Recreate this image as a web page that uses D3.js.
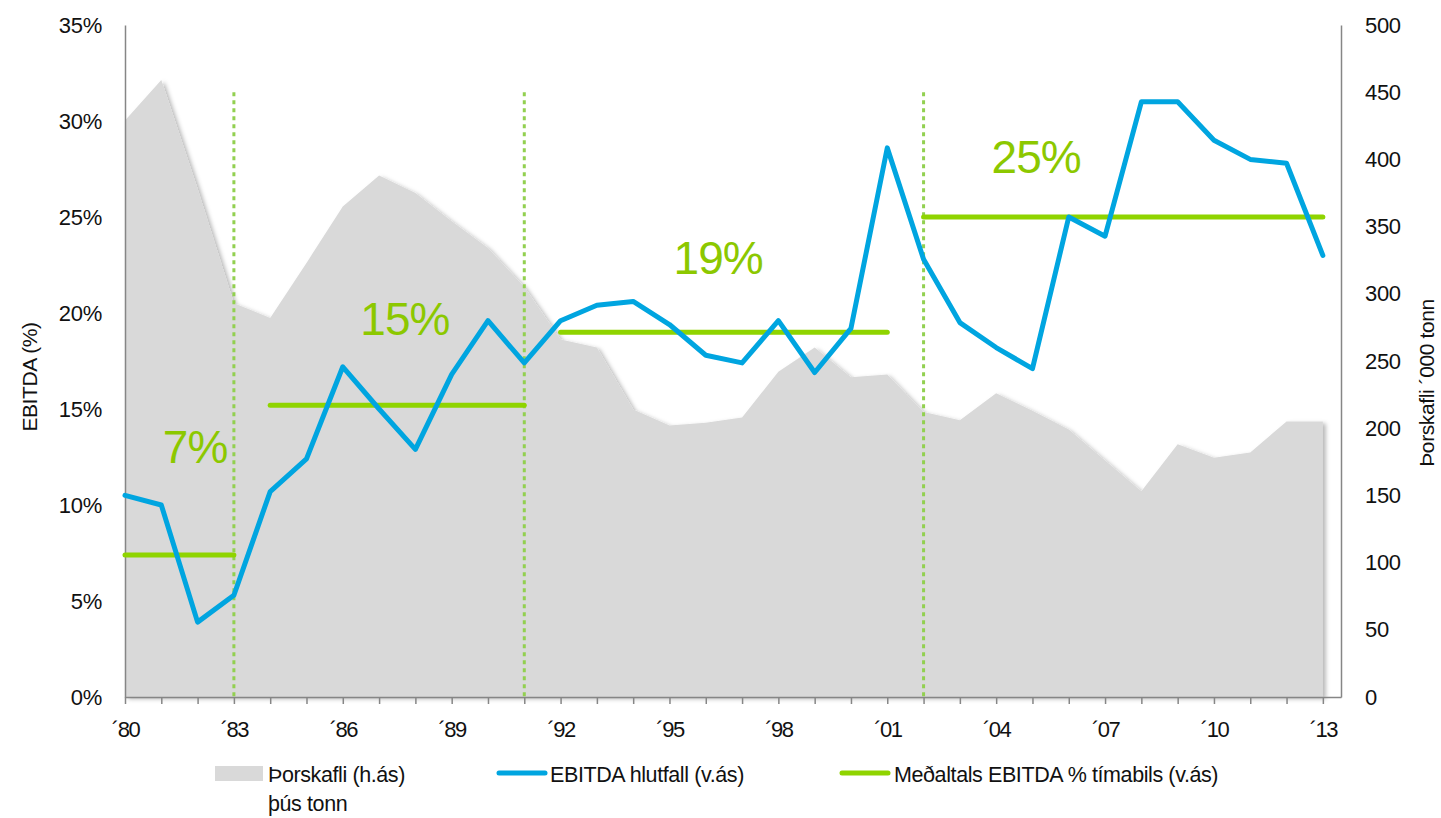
<!DOCTYPE html>
<html lang="is">
<head>
<meta charset="UTF-8">
<title>EBITDA og þorskafli</title>
<script src="https://d3js.org/d3.v7.min.js"></script>
<style>
  body { margin: 0; background: #fff; }
  svg { display: block; font-family: "Liberation Sans", Arial, sans-serif; }
  .axis .domain { stroke: #868686; stroke-width: 1.5; }
  .axis line { stroke: #868686; stroke-width: 1.5; }
  .axis text { font-size: 22px; fill: #111; letter-spacing: -0.3px; }
  .xaxis text { letter-spacing: -1.5px; }
  .title { font-size: 21px; fill: #111; letter-spacing: -0.4px; }
  .legend text { font-size: 21.5px; fill: #111; letter-spacing: -0.4px; }
  .big { font-size: 46px; fill: #8cc800; letter-spacing: -1px; text-anchor: middle; }
</style>
</head>
<body>
<svg id="chart" width="1441" height="818"></svg>
<script>
// data
const years = d3.range(1980, 2014);
const ebitda = [10.5, 10.0, 3.9, 5.3, 10.7, 12.4, 17.2, 15.0, 12.9, 16.8,
                19.6, 17.4, 19.6, 20.4, 20.6, 19.4, 17.8, 17.4, 19.6, 16.9,
                19.2, 28.6, 22.8, 19.5, 18.2, 17.1, 25.0, 24.0, 31.0, 31.0,
                29.0, 28.0, 27.8, 23.0];
const codCatch = [429, 459, 378, 293, 282, 323, 365, 388, 375, 354,
                  334, 305, 266, 260, 214, 202, 204, 208, 242, 260,
                  238, 240, 212, 206, 226, 213, 199, 176, 153, 188,
                  178, 182, 205, 205];
const periodStart = [1980, 1984, 1992, 2002];
const periodEnd = [1983, 1991, 2001, 2013];
const periodAvg = [7.4, 15.2, 19.0, 25.0];
const periodLabels = ["7%", "15%", "19%", "25%"];
const periodBreaks = [1983, 1991, 2002];
const leftTicks = [0, 5, 10, 15, 20, 25, 30, 35];
const rightTicks = d3.range(0, 501, 50);
const legendLabels = ["Þorskafli (h.ás)", "EBITDA hlutfall (v.ás)", "Meðaltals EBITDA % tímabils (v.ás)"];

// where the period labels sit, in data units [year, %]
const labelAt = [[1981.93, 12.2], [1987.71, 18.85], [1996.34, 22.03], [2005.1, 27.3]];

const svg = d3.select("#chart");
const x = d3.scaleLinear().domain([1980, 2013.5]).range([125, 1341]);
const yL = d3.scaleLinear().domain([0, 35]).range([697, 25]);
const yR = d3.scaleLinear().domain([0, 500]).range([697, 25]);

const blue = "#00a5e0", green = "#8fd400", grey = "#d9d9d9";

// shadow under the catch area
const defs = svg.append("defs");
defs.append("filter").attr("id", "shadow")
    .attr("x", "-5%").attr("y", "-5%").attr("width", "110%").attr("height", "110%")
    .append("feDropShadow")
    .attr("dx", 3).attr("dy", 2).attr("stdDeviation", 2)
    .attr("flood-color", "#000").attr("flood-opacity", 0.28);

const area = d3.area()
    .x((d, i) => x(years[i]))
    .y0(yR(0))
    .y1(d => yR(d));

svg.append("path")
   .datum(codCatch)
   .attr("d", area)
   .attr("fill", grey)
   .attr("filter", "url(#shadow)");

// dotted period separators
svg.selectAll(".sep")
   .data(periodBreaks)
   .enter().append("line")
   .attr("x1", d => x(d)).attr("x2", d => x(d))
   .attr("y1", yL(31.5)).attr("y2", yL(0))
   .attr("stroke", "#92d050").attr("stroke-width", 3)
   .attr("stroke-dasharray", "4,4");

// axes
svg.append("g").attr("class", "axis")
   .attr("transform", `translate(${x(1980)},0)`)
   .call(d3.axisLeft(yL).tickValues(leftTicks).tickFormat(d => d + "%")
         .tickSize(0).tickPadding(23));

svg.append("g").attr("class", "axis")
   .attr("transform", `translate(${x(2013.5)},0)`)
   .call(d3.axisRight(yR).tickValues(rightTicks).tickSize(0).tickPadding(24));

svg.append("g").attr("class", "axis xaxis")
   .attr("transform", `translate(0,${yL(0)})`)
   .call(d3.axisBottom(x).tickValues(years)
         .tickFormat(d => (d - 1980) % 3 === 0 ? "´" + String(d).slice(2) : "")
         .tickSizeInner(7).tickSizeOuter(0).tickPadding(17));

// period averages
svg.selectAll(".avg")
   .data(periodAvg)
   .enter().append("line")
   .attr("x1", (d, i) => x(periodStart[i]))
   .attr("x2", (d, i) => x(periodEnd[i]))
   .attr("y1", d => yL(d)).attr("y2", d => yL(d))
   .attr("stroke", green).attr("stroke-width", 5)
   .attr("stroke-linecap", "round");

// EBITDA line
svg.append("path")
   .datum(ebitda)
   .attr("d", d3.line().x((d, i) => x(years[i])).y(d => yL(d)))
   .attr("fill", "none")
   .attr("stroke", blue).attr("stroke-width", 5)
   .attr("stroke-linejoin", "round").attr("stroke-linecap", "round");

svg.selectAll(".big")
   .data(periodLabels)
   .enter().append("text")
   .attr("class", "big")
   .attr("x", (d, i) => x(labelAt[i][0]))
   .attr("y", (d, i) => yL(labelAt[i][1]))
   .text(d => d);

// axis titles
svg.append("text").attr("class", "title")
   .attr("transform", "translate(37,377) rotate(-90)")
   .attr("text-anchor", "middle")
   .text("EBITDA (%)");

svg.append("text").attr("class", "title")
   .attr("transform", "translate(1434,383) rotate(-90)")
   .attr("text-anchor", "middle")
   .text("Þorskafli ´000 tonn");

// legend
const legend = svg.append("g").attr("class", "legend");
legend.append("rect")
      .attr("x", 215).attr("y", 766).attr("width", 48).attr("height", 15)
      .attr("fill", grey);
legend.append("text").attr("x", 268).attr("y", 782).text(legendLabels[0]);
legend.append("text").attr("x", 268).attr("y", 811).text("þús tonn");

legend.append("line")
      .attr("x1", 499).attr("x2", 545).attr("y1", 773).attr("y2", 773)
      .attr("stroke", blue).attr("stroke-width", 5).attr("stroke-linecap", "round");
legend.append("text").attr("x", 550).attr("y", 782).text(legendLabels[1]);

legend.append("line")
      .attr("x1", 842).attr("x2", 888).attr("y1", 773).attr("y2", 773)
      .attr("stroke", green).attr("stroke-width", 5).attr("stroke-linecap", "round");
legend.append("text").attr("x", 894).attr("y", 782).text(legendLabels[2]);
</script>
</body>
</html>
